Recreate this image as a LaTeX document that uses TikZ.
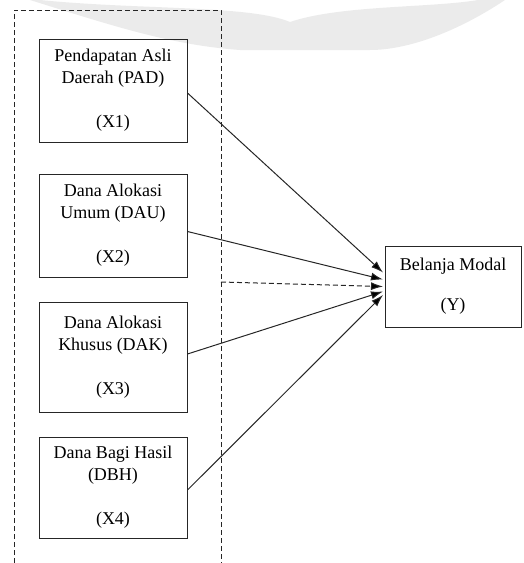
\documentclass[tikz,border=0pt]{standalone}
\usepackage{fontspec}
\setmainfont{Liberation Serif}
\usetikzlibrary{arrows.meta,calc}

\tikzset{
	varbox/.style={draw=black!85, line width=1pt, minimum width=148pt, inner sep=0pt, align=center, font=\fontsize{18}{22}\selectfont},
	panah/.style={line width=1pt, draw=black!85, -{Latex[length=12pt,width=8pt,fill=black]}},
	garis/.style={line width=0.9pt, draw=black!85, dash pattern=on 5pt off 3pt},
}

\begin{document}
\begin{tikzpicture}[x=1pt,y=-1pt]
			%%%%% START %%%%%
			\useasboundingbox (0,0) rectangle (523,563);
			
			% faint band at the top
			\fill[black!8] (40,0) .. controls (140,10) and (250,5) .. (290,22)
				.. controls (340,5) and (430,8) .. (478,0) -- (505,0)
				.. controls (460,30) and (410,50) .. (370,50) -- (240,50)
				.. controls (170,45) and (110,25) .. (30,0) -- cycle;
			
			% dashed frame round the X boxes
			\draw[garis] (14,563) -- (14,10) -- (221,10) -- (221,563);
			
			\node[varbox, minimum height=103pt] (x1) at (113,90.5) {Pendapatan Asli\\Daerah (PAD)\\[22pt](X1)};
			\node[varbox, minimum height=103pt] (x2) at (113,225.5) {Dana Alokasi\\Umum (DAU)\\[22pt](X2)};
			\node[varbox, minimum height=110pt] (x3) at (113,357) {Dana Alokasi\\Khusus (DAK)\\[22pt](X3)};
			\node[varbox, minimum height=101pt] (x4) at (113,487.5) {Dana Bagi Hasil\\(DBH)\\[22pt](X4)};
			
			\node[varbox, minimum width=136pt, minimum height=81pt] (y) at (453,286.5) {Belanja Modal\\[18pt](Y)};
			
			\coordinate (kerangka) at (221,282);
			\coordinate (t1) at ($(y.west)+(-1.5,-14)$);
			\coordinate (t2) at ($(y.west)+(-1.5,-7)$);
			\coordinate (t3) at ($(y.west)+(-1.5,0)$);
			\coordinate (t4) at ($(y.west)+(-1.5,5)$);
			\coordinate (t5) at ($(y.west)+(-1.5,8.5)$);
			
			\draw[panah] ($(x1.east)+(0,2.5)$) -- (t1);
			\draw[panah] ($(x2.east)+(0,6)$) -- (t2);
			\draw[panah, dash pattern=on 5pt off 3pt] (kerangka) -- (t3);
			\draw[panah] ($(x3.east)+(0,-3)$) -- (t4);
			\draw[panah] ($(x4.east)+(0,2.5)$) -- (t5);
			%%%%% END %%%%%
\end{tikzpicture}
\end{document}
